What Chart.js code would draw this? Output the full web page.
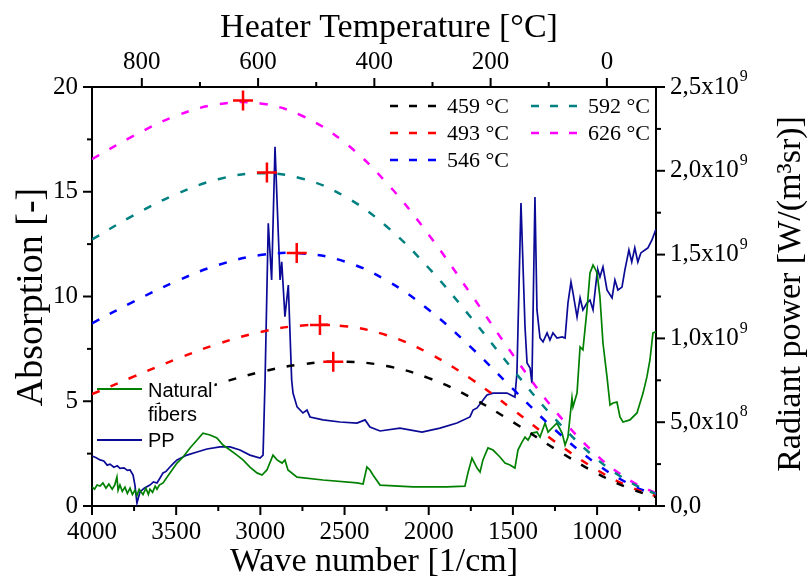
<!DOCTYPE html>
<html><head><meta charset="utf-8">
<script src="https://cdn.jsdelivr.net/npm/chart.js@4.4.1/dist/chart.umd.min.js"></script>
<style>html,body{margin:0;padding:0;background:#fff}#wrap{width:808px;height:585px}canvas{display:block}</style>
</head><body><div id="wrap"><canvas id="c" width="808" height="585"></canvas></div>
<script>
// ---------- axis ticks ----------
const waveTicks = [4000,3500,3000,2500,2000,1500,1000];
const waveMinor = [3750,3250,2750,2250,1750,1250,750];
const tempTicks = [800,600,400,200,0];
const tempMinor = [700,500,300,100];
const absTicks = [0,5,10,15,20];
const absMinor = [2.5,7.5,12.5,17.5];
const powerTicks = [0,5e8,1e9,1.5e9,2e9,2.5e9];
const powerMinor = [2.5e8,7.5e8,1.25e9,1.75e9,2.25e9];
const powerLabelMain = ['0,0','5,0x10','1,0x10','1,5x10','2,0x10','2,5x10'];
const powerLabelExp  = ['','8','9','9','9','9'];

// ---------- radiant power curves (W/(m^3 sr)) ----------
const planckLabels = ['459 °C','493 °C','546 °C','592 °C','626 °C'];
const wnPlanck = [4000,3750,3500,3250,3000,2750,2500,2250,2000,1750,1500,1250,1000,800,650];
const wn459 = [3640,3500,3250,3000,2750,2500,2250,2000,1750,1500,1250,1000,800,650];
const p459 = [0.596e9,0.645e9,0.729e9,0.799e9,0.846e9,0.861e9,0.835e9,0.763e9,0.648e9,0.501e9,0.341e9,0.194e9,0.102e9,0.053e9];
const p493 = [0.667e9,0.773e9,0.876e9,0.968e9,1.038e9,1.077e9,1.073e9,1.019e9,0.912e9,0.759e9,0.575e9,0.384e9,0.215e9,0.112e9,0.058e9];
const p546 = [1.090e9,1.221e9,1.341e9,1.438e9,1.497e9,1.507e9,1.459e9,1.346e9,1.171e9,0.948e9,0.699e9,0.455e9,0.249e9,0.127e9,0.065e9];
const p592 = [1.590e9,1.736e9,1.860e9,1.950e9,1.985e9,1.953e9,1.848e9,1.668e9,1.420e9,1.126e9,0.814e9,0.520e9,0.279e9,0.140e9,0.071e9];
const p626 = [2.07e9,2.21e9,2.328e9,2.397e9,2.402e9,2.327e9,2.169e9,1.928e9,1.619e9,1.265e9,0.902e9,0.569e9,0.301e9,0.150e9,0.0755e9];
const peakWn = [2567,2646,2784,2961,3103];
const peakPower = [0.861e9,1.08e9,1.51e9,1.99e9,2.42e9];

// ---------- spectra (absorption) ----------
const wnPP = [4000,3975,3952,3930,3910,3893,3870,3850,3834,3810,3790,3774,3756,3745,3733,3715,3690,3656,3635,3614,3595,3578,3560,3537,3515,3495,3436,3376,3317,3240,3180,3121,3062,3002,2984,2972,2953,2933,2913,2883,2873,2854,2834,2814,2806,2782,2747,2723,2705,2628,2527,2426,2378,2349,2289,2171,2040,1933,1832,1755,1737,1713,1654,1618,1535,1488,1476,1452,1428,1416,1398,1387,1369,1357,1339,1321,1297,1280,1262,1238,1208,1190,1173,1155,1143,1119,1101,1084,1060,1042,1024,1000,995,983,965,941,911,894,876,852,835,823,811,794,776,758,740,716,698,674,650];
const absPP = [2.39,2.30,2.20,2.15,1.95,2.00,1.85,1.92,1.80,1.82,1.70,1.72,1.48,1.00,0.14,0.67,0.85,1.00,1.15,1.10,1.35,1.58,1.65,1.86,2.05,2.20,2.43,2.58,2.72,2.82,2.82,2.67,2.43,2.29,2.43,6.01,13.49,10.79,17.15,10.79,11.66,9.04,10.55,6.01,5.39,4.73,4.44,4.58,4.25,4.11,4.01,3.96,4.11,3.77,3.58,3.72,3.53,3.72,3.96,4.25,4.58,4.68,5.30,5.39,5.39,5.20,6.35,14.46,8.54,6.83,6.59,5.87,14.75,9.36,8.02,7.83,8.26,7.92,8.26,8.02,8.07,8.02,9.69,10.69,10.17,9.02,9.93,9.36,9.69,9.83,9.36,11.12,11.26,10.93,11.41,10.31,9.93,10.79,10.31,10.45,11.26,11.74,12.22,11.65,12.32,11.65,12.08,12.22,12.32,12.70,13.22];
const wnNF = [4000,3985,3970,3952,3935,3917,3900,3880,3865,3852,3845,3834,3820,3804,3790,3774,3760,3745,3733,3720,3697,3680,3665,3656,3640,3625,3614,3600,3578,3537,3495,3459,3418,3376,3341,3299,3258,3222,3180,3139,3103,3062,3020,2990,2961,2925,2901,2871,2854,2836,2782,2628,2426,2390,2367,2349,2331,2289,2093,1892,1785,1767,1743,1713,1695,1678,1648,1618,1577,1547,1517,1488,1470,1446,1428,1410,1387,1357,1339,1309,1291,1262,1238,1208,1190,1173,1149,1143,1119,1101,1084,1060,1042,1024,1010,1000,983,965,941,923,905,882,864,846,805,763,727,704,686,668,650];
const absNF = [0.91,0.80,1.00,0.95,1.10,0.85,1.05,0.80,1.00,1.38,0.75,1.00,0.70,0.90,0.60,0.85,0.55,0.75,0.50,0.80,0.55,0.85,0.55,0.80,0.65,0.95,0.80,1.00,1.10,1.58,2.05,2.34,2.77,3.15,3.48,3.39,3.25,2.91,2.67,2.43,2.20,1.86,1.58,1.48,1.72,2.43,2.20,2.05,2.20,1.72,1.38,1.24,1.10,1.05,1.86,1.72,1.48,1.00,0.91,0.91,0.95,1.58,2.29,1.81,1.62,2.20,2.77,2.67,2.34,2.05,1.96,1.81,2.67,3.05,3.29,3.15,3.48,3.53,3.29,3.96,3.53,3.77,3.96,3.48,2.91,3.29,5.16,4.73,5.39,7.59,7.45,9.36,11.12,11.50,11.30,11.12,9.98,7.78,6.16,4.82,4.92,4.96,4.25,4.01,4.11,4.44,5.39,6.16,6.97,8.26,8.31];

const seriesLabels = ['Natural fibers','PP'];

// ---------- build ----------
const serif = "'Liberation Serif','Times New Roman',serif";
const sans = "'Liberation Sans',Arial,sans-serif";
Chart.defaults.font.family = serif;
Chart.defaults.font.size = 25;
Chart.defaults.color = '#000';

function pts(xs, ys){ return xs.map((x,i)=>({x:x, y:ys[i]})); }

const planckColors = ['#000000','#ff0000','#0000ff','#008080','#ff00ff'];
const planckWn = [wn459, wnPlanck, wnPlanck, wnPlanck, wnPlanck];
const planckVals = [p459, p493, p546, p592, p626];

const datasets = [];
datasets.push({label:'peaks', data: pts(peakWn, peakPower), yAxisID:'y2', xAxisID:'x',
  showLine:false, pointStyle:'cross', pointRadius:10, pointBorderWidth:2.5,
  borderColor:'#ff0000', backgroundColor:'#ff0000', order:0});
planckLabels.forEach((lab,i)=>{
  datasets.push({label:lab, data: pts(planckWn[i], planckVals[i]), yAxisID:'y2', xAxisID:'x',
    borderColor: planckColors[i], borderWidth:2.5, borderDash:[8,12], pointRadius:0,
    tension:0.4, fill:false, order:1});
});
datasets.push({label:seriesLabels[0], data: pts(wnNF, absNF), yAxisID:'y', xAxisID:'x',
  borderColor:'#008000', borderWidth:1.7, pointRadius:0, tension:0, fill:false, order:2});
datasets.push({label:seriesLabels[1], data: pts(wnPP, absPP), yAxisID:'y', xAxisID:'x',
  borderColor:'#0a0a96', borderWidth:1.7, pointRadius:0, tension:0, fill:false, order:2});

function setTicks(arr){ return s=>{ s.ticks = arr.map(v=>({value:v})); }; }
const border = {display:true, color:'#000', width:2};

const decor = {
  id:'decor',
  afterDraw(chart){
    const ctx = chart.ctx, a = chart.chartArea, S = chart.scales;
    ctx.save();
    ctx.strokeStyle = '#000'; ctx.lineWidth = 2; ctx.setLineDash([]);
    function tk(x1,y1,x2,y2){ ctx.beginPath(); ctx.moveTo(x1,y1); ctx.lineTo(x2,y2); ctx.stroke(); }
    waveTicks.forEach(v=>{const p=S.x.getPixelForValue(v); tk(p,a.bottom,p,a.bottom+9);});
    waveMinor.forEach(v=>{const p=S.x.getPixelForValue(v); tk(p,a.bottom,p,a.bottom+5);});
    tempTicks.forEach(v=>{const p=S.x2.getPixelForValue(v); tk(p,a.top,p,a.top-9);});
    tempMinor.forEach(v=>{const p=S.x2.getPixelForValue(v); tk(p,a.top,p,a.top-5);});
    absTicks.forEach(v=>{const p=S.y.getPixelForValue(v); tk(a.left,p,a.left-9,p);});
    absMinor.forEach(v=>{const p=S.y.getPixelForValue(v); tk(a.left,p,a.left-5,p);});
    powerTicks.forEach(v=>{const p=S.y2.getPixelForValue(v); tk(a.right,p,a.right+9,p);});
    powerMinor.forEach(v=>{const p=S.y2.getPixelForValue(v); tk(a.right,p,a.right+5,p);});

    // right axis labels with superscripts
    ctx.fillStyle = '#000'; ctx.textBaseline = 'middle'; ctx.textAlign = 'left';
    powerTicks.forEach((v,i)=>{
      const p = S.y2.getPixelForValue(v);
      ctx.font = '25px ' + serif;
      const x0 = a.right + 14;
      ctx.fillText(powerLabelMain[i], x0, p);
      if (powerLabelExp[i]) {
        const w = ctx.measureText(powerLabelMain[i]).width;
        ctx.font = '16px ' + serif;
        ctx.fillText(powerLabelExp[i], x0 + w + 1, p - 10);
      }
    });

    // axis titles
    ctx.font = '34px ' + serif; ctx.textAlign = 'center'; ctx.textBaseline = 'middle';
    ctx.fillText('Wave number [1/cm]', (a.left + a.right)/2, 562);
    ctx.fillText('Heater Temperature [°C]', 389, 28);
    ctx.save(); ctx.translate(791, 294); ctx.rotate(-Math.PI/2);
    ctx.fillText('Radiant power [W/(m³sr)]', 0, 0); ctx.restore();
    ctx.font = '38px ' + serif;
    ctx.save(); ctx.translate(32, 297); ctx.rotate(-Math.PI/2);
    ctx.fillText('Absorption [-]', 0, 0); ctx.restore();

    // top legend (radiant power curves)
    const legPos = [[390,106],[390,133],[390,160],[531,106],[531,133]];
    planckLabels.forEach((lab,i)=>{
      const [lx,ly] = legPos[i];
      ctx.strokeStyle = planckColors[i]; ctx.lineWidth = 2.5; ctx.setLineDash([8,11]);
      tk(lx, ly, lx+46, ly);
      ctx.setLineDash([]);
      ctx.fillStyle = '#000'; ctx.font = '22px ' + serif; ctx.textAlign = 'left'; ctx.textBaseline = 'middle';
      ctx.fillText(lab, lx+57, ly+1);
    });

    // bottom-left legend (spectra)
    ctx.font = '20px ' + sans; ctx.textAlign = 'left'; ctx.textBaseline = 'middle';
    const rows = [['Natural',390],['fibers',414],['PP',440]];
    rows.forEach(r=>{
      const w = ctx.measureText(r[0]).width;
      ctx.fillStyle = '#fff'; ctx.fillRect(147, r[1]-10, w+3, 21);
    });
    ctx.fillStyle = '#000';
    rows.forEach(r=>{ ctx.fillText(r[0], 148, r[1]+1); });
    ctx.lineWidth = 2; ctx.strokeStyle = '#008000'; tk(97,389,142,389);
    ctx.strokeStyle = '#0a0a96'; tk(97,440,142,440);
    ctx.restore();
  }
};

new Chart(document.getElementById('c'), {
  type:'line',
  data:{datasets},
  plugins:[decor],
  options:{
    responsive:false, animation:false, events:[],
    layout:{padding:0},
    plugins:{legend:{display:false}, tooltip:{enabled:false}},
    scales:{
      x:{type:'linear', position:'bottom', reverse:true, min:650, max:4000,
         afterBuildTicks:setTicks(waveTicks), afterFit:s=>{s.height=79;},
         grid:{display:false, drawTicks:false}, border,
         ticks:{padding:11, maxRotation:0, autoSkip:false, callback:v=>String(v)}},
      x2:{type:'linear', position:'top', reverse:true, min:-84.5, max:885.7,
         afterBuildTicks:setTicks(tempTicks), afterFit:s=>{s.height=87;},
         grid:{display:false, drawTicks:false}, border,
         ticks:{padding:10, maxRotation:0, autoSkip:false, callback:v=>String(v)}},
      y:{type:'linear', position:'left', min:0, max:20,
         afterBuildTicks:setTicks(absTicks), afterFit:s=>{s.width=92;},
         grid:{display:false, drawTicks:false}, border,
         ticks:{padding:14, autoSkip:false, callback:v=>String(v)}},
      y2:{type:'linear', position:'right', min:0, max:2.5e9,
         afterBuildTicks:setTicks(powerTicks), afterFit:s=>{s.width=152;},
         grid:{display:false, drawTicks:false}, border,
         ticks:{padding:14, autoSkip:false, callback:()=>''}}
    }
  }
});
</script></body></html>
